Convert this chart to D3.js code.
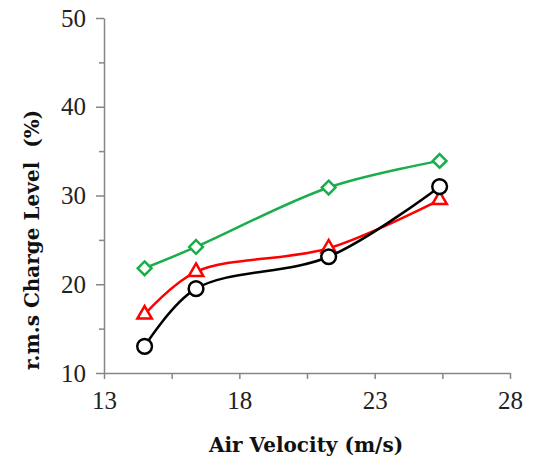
<!DOCTYPE html>
<html>
<head>
<script src="https://cdnjs.cloudflare.com/ajax/libs/d3/7.8.5/d3.min.js"></script>
<style>
  body { margin: 0; background: #fff; }
  .tick text { font-family: "Liberation Serif", serif; font-size: 25px; fill: #222; }
  .title { font-family: "DejaVu Serif", serif; font-weight: bold; font-size: 20px; fill: #111; }
</style>
</head>
<body>
<div id="chart"></div>
<script>
const velocity = [14.5, 16.4, 21.3, 25.4];
const circleSeries = [13.0, 19.5, 23.1, 31.0];
const triangleSeries = [16.6, 21.4, 24.05, 29.5];
const diamondSeries = [21.8, 24.2, 30.9, 33.9];
const xTicks = [13, 18, 23, 28];
const yTicks = [10, 20, 30, 40, 50];

const width = 537, height = 467;
const svg = d3.select('#chart').append('svg')
    .attr('width', width).attr('height', height);

const x = d3.scaleLinear().domain([13, 28]).range([104, 510]);
const y = d3.scaleLinear().domain([10, 50]).range([373, 18]);

// minor ticks
svg.append('g')
    .attr('transform', `translate(0,${y(10)})`)
    .call(d3.axisBottom(x).tickValues([15.5, 20.5, 25.5]).tickSize(6).tickFormat(''))
    .call(g => g.select('.domain').remove())
    .call(g => g.selectAll('line').attr('stroke', '#868686').attr('stroke-width', 1.5));
svg.append('g')
    .attr('transform', `translate(${x(13)},0)`)
    .call(d3.axisLeft(y).tickValues([15, 25, 35, 45]).tickSize(5).tickFormat(''))
    .call(g => g.select('.domain').remove())
    .call(g => g.selectAll('line').attr('stroke', '#868686').attr('stroke-width', 1.5));

// main axes
const xAxis = svg.append('g')
    .attr('transform', `translate(0,${y(10)})`)
    .call(d3.axisBottom(x).tickValues(xTicks).tickSize(6).tickSizeOuter(0).tickPadding(12));
const yAxis = svg.append('g')
    .attr('transform', `translate(${x(13)},0)`)
    .call(d3.axisLeft(y).tickValues(yTicks).tickSize(8).tickSizeOuter(0).tickPadding(10));
[xAxis, yAxis].forEach(a => {
    a.select('.domain').attr('stroke', '#868686').attr('stroke-width', 1.5);
    a.selectAll('.tick line').attr('stroke', '#868686').attr('stroke-width', 1.5);
});

const series = [
    { values: diamondSeries, color: '#1aad4b', symbol: d3.symbolDiamond2, size: 120 },
    { values: triangleSeries, color: '#ff0000', symbol: d3.symbolTriangle2, size: 150 },
    { values: circleSeries, color: '#000000', symbol: d3.symbolCircle, size: 170 }
];

const line = d3.line()
    .x((d, i) => x(velocity[i]))
    .y(d => y(d))
    .curve(d3.curveCatmullRom.alpha(0.5));

series.forEach(s => {
    svg.append('path')
        .attr('d', line(s.values))
        .attr('fill', 'none')
        .attr('stroke', s.color)
        .attr('stroke-width', 2.5);
    svg.append('g').selectAll('path')
        .data(s.values)
        .join('path')
        .attr('transform', (d, i) => `translate(${x(velocity[i])},${y(d)})`)
        .attr('d', d3.symbol().type(s.symbol).size(s.size))
        .attr('fill', '#fff')
        .attr('stroke', s.color)
        .attr('stroke-width', 2.5);
});

svg.append('text')
    .attr('class', 'title')
    .attr('x', 306).attr('y', 452)
    .attr('text-anchor', 'middle')
    .text('Air Velocity (m/s)');

svg.append('text')
    .attr('class', 'title')
    .attr('transform', 'translate(39,240) rotate(-90)')
    .attr('text-anchor', 'middle')
    .attr('xml:space', 'preserve')
    .text('r.m.s Charge Level  (%)');
</script>
</body>
</html>
